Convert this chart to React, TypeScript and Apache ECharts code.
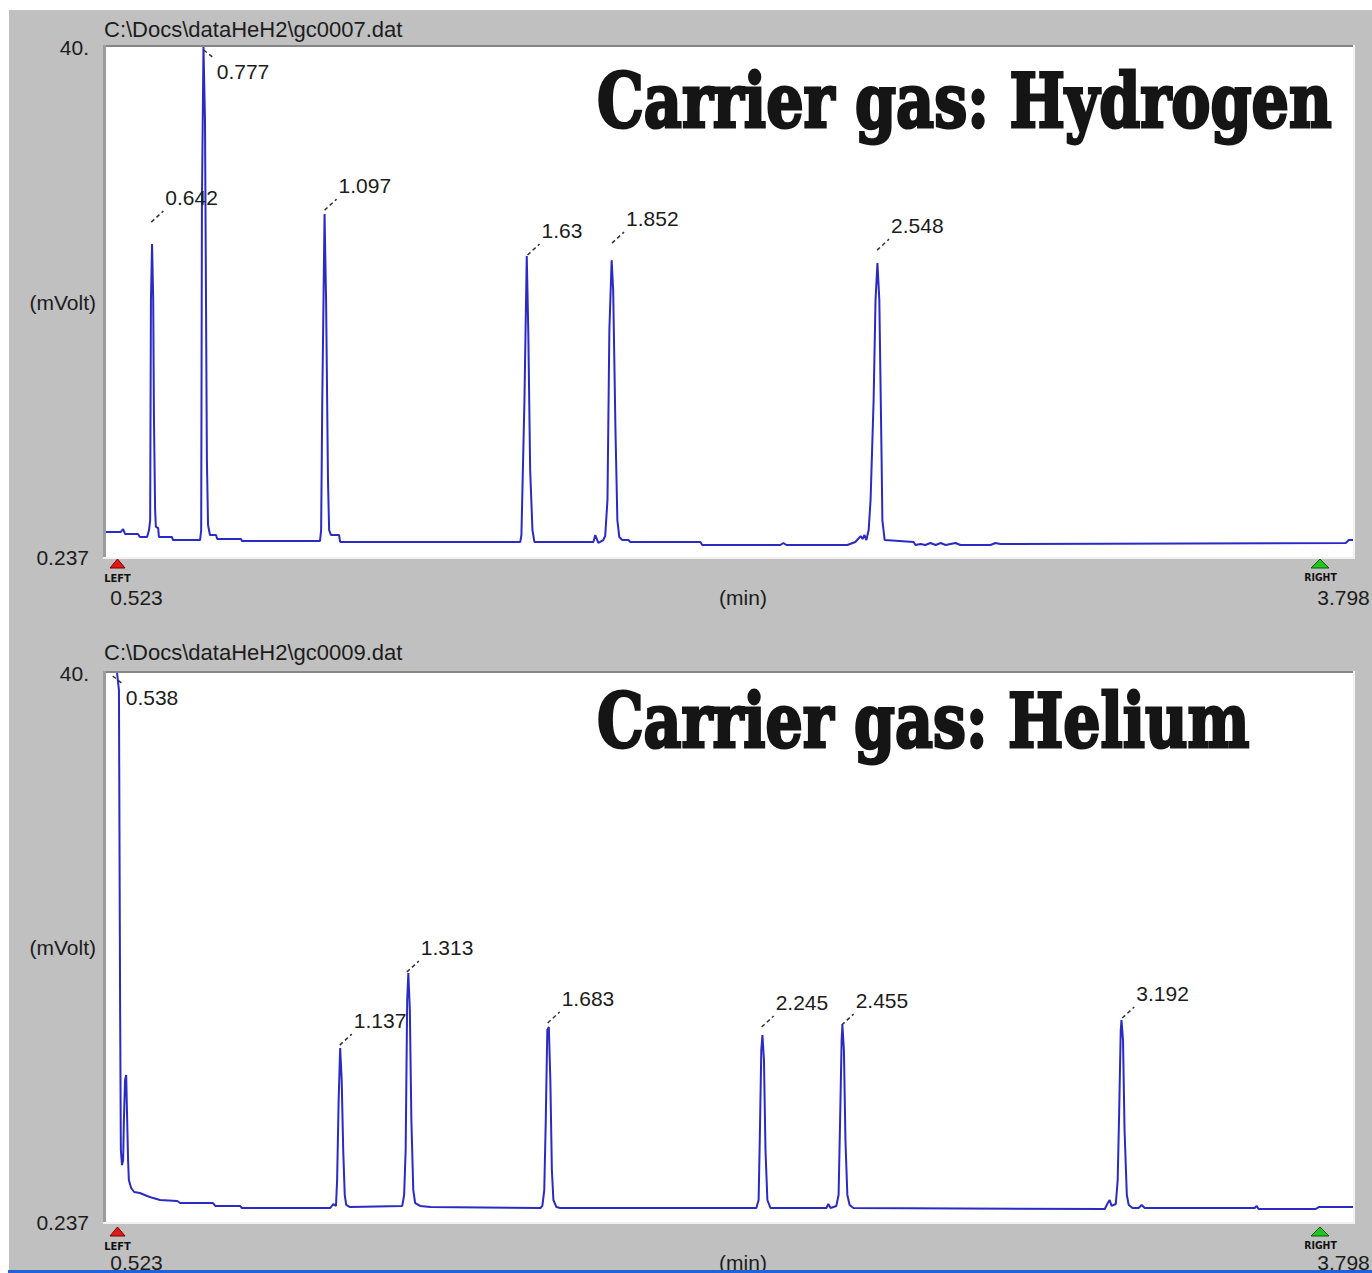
import React, { useEffect, useRef } from 'react';
import * as echarts from 'echarts';

// ---------- data ----------
const xRange = [0.523, 3.798];
const yRange = [0.237, 40];
const xTickValues = [0.523, 3.798];
const xTickLabels = ['0.523', '3.798'];
const yTickValues = [0.237, 40];
const yTickLabels = ['0.237', '40.'];
const xAxisName = '(min)';
const yAxisName = '(mVolt)';
const fileNames = ['C:\\Docs\\dataHeH2\\gc0007.dat', 'C:\\Docs\\dataHeH2\\gc0009.dat'];
const panelTitles = ['Carrier gas: Hydrogen', 'Carrier gas: Helium'];
const markerTexts = ['LEFT', 'RIGHT'];

const hydrogenTrace: [number, number][] = [
  [0.523, 2.19], [0.562, 2.19], [0.568, 2.42], [0.573, 2.03], [0.607, 2.03], [0.612, 1.80], [0.631, 1.80],
  [0.636, 2.34], [0.639, 3.12], [0.641, 20.27], [0.644, 24.63], [0.647, 20.27], [0.649, 10.92], [0.652, 3.90],
  [0.654, 2.58], [0.660, 2.50], [0.662, 1.80], [0.696, 1.80], [0.699, 1.56], [0.770, 1.56], [0.773, 2.34],
  [0.775, 28.06], [0.779, 40], [0.783, 34.30], [0.788, 7.80], [0.791, 2.73], [0.796, 1.95], [0.812, 1.95],
  [0.815, 1.64], [0.878, 1.64], [0.880, 1.48], [1.085, 1.48], [1.088, 2.34], [1.091, 12.47], [1.097, 26.97],
  [1.101, 20.27], [1.106, 6.24], [1.109, 2.34], [1.114, 1.95], [1.135, 1.95], [1.138, 1.41], [1.611, 1.41],
  [1.614, 1.95], [1.622, 12.47], [1.628, 23.70], [1.632, 17.93], [1.637, 7.02], [1.643, 2.34], [1.648, 1.41],
  [1.803, 1.41], [1.808, 1.95], [1.816, 1.33], [1.829, 1.56], [1.834, 1.87], [1.840, 4.68], [1.845, 17.93],
  [1.851, 23.38], [1.855, 21.05], [1.861, 10.14], [1.866, 3.12], [1.871, 1.80], [1.879, 1.56], [1.895, 1.56],
  [1.900, 1.41], [2.084, 1.41], [2.089, 1.17], [2.294, 1.17], [2.302, 1.33], [2.310, 1.17], [2.470, 1.17],
  [2.491, 1.41], [2.505, 1.87], [2.510, 1.64], [2.515, 1.95], [2.520, 1.56], [2.526, 2.34], [2.531, 4.68],
  [2.539, 12.47], [2.544, 20.27], [2.549, 23.15], [2.554, 20.27], [2.560, 7.80], [2.562, 3.12], [2.568, 1.56],
  [2.644, 1.41], [2.649, 1.17], [2.662, 1.25], [2.675, 1.17], [2.688, 1.33], [2.702, 1.17], [2.715, 1.33],
  [2.728, 1.17], [2.754, 1.33], [2.767, 1.17], [2.846, 1.17], [2.859, 1.33], [2.872, 1.25], [3.779, 1.33],
  [3.787, 1.56], [3.798, 1.56],
];

const heliumTrace: [number, number][] = [
  [0.552, 40], [0.557, 38.76], [0.560, 16.31], [0.562, 5.45], [0.565, 4.36], [0.568, 4.73], [0.570, 7.62],
  [0.573, 10.52], [0.576, 10.88], [0.578, 8.35], [0.581, 4.73], [0.583, 3.28], [0.589, 2.70], [0.597, 2.41],
  [0.612, 2.34], [0.631, 2.12], [0.647, 1.97], [0.665, 1.83], [0.710, 1.76], [0.718, 1.61], [0.804, 1.61],
  [0.810, 1.40], [0.875, 1.40], [0.880, 1.25], [1.112, 1.25], [1.120, 1.54], [1.127, 1.40], [1.130, 3.28],
  [1.134, 9.07], [1.138, 12.84], [1.142, 10.52], [1.146, 5.45], [1.150, 2.19], [1.154, 1.47], [1.164, 1.32],
  [1.301, 1.40], [1.306, 2.19], [1.310, 5.45], [1.314, 16.31], [1.317, 18.27], [1.321, 15.59], [1.325, 7.62],
  [1.330, 2.55], [1.335, 1.61], [1.348, 1.40], [1.375, 1.32], [1.664, 1.25], [1.669, 1.40], [1.674, 2.55],
  [1.678, 7.62], [1.682, 14.14], [1.686, 14.36], [1.690, 10.52], [1.694, 4.00], [1.698, 1.83], [1.706, 1.32],
  [1.716, 1.25], [2.231, 1.25], [2.237, 1.83], [2.240, 6.17], [2.244, 12.69], [2.247, 13.78], [2.251, 11.97],
  [2.255, 5.45], [2.260, 1.83], [2.268, 1.25], [2.415, 1.25], [2.420, 1.54], [2.426, 1.25], [2.441, 1.40],
  [2.447, 2.19], [2.451, 7.62], [2.455, 13.42], [2.457, 14.50], [2.461, 12.69], [2.465, 6.17], [2.470, 2.19],
  [2.476, 1.47], [2.486, 1.25], [3.146, 1.18], [3.154, 1.61], [3.159, 1.83], [3.164, 1.40], [3.175, 1.54],
  [3.180, 3.28], [3.184, 8.35], [3.188, 14.14], [3.190, 14.86], [3.194, 13.42], [3.198, 6.90], [3.204, 2.19],
  [3.209, 1.47], [3.219, 1.25], [3.235, 1.25], [3.243, 1.47], [3.251, 1.25], [3.540, 1.25], [3.545, 1.40],
  [3.550, 1.18], [3.700, 1.18], [3.708, 1.32], [3.798, 1.32],
];

const hydrogenPeakTimes = [0.642, 0.777, 1.097, 1.63, 1.852, 2.548];
const hydrogenPeakTops = [26.35, 40, 27.28, 23.78, 24.71, 24.16];
const hydrogenPeakLabels = ['0.642', '0.777', '1.097', '1.63', '1.852', '2.548'];

const heliumPeakTimes = [0.538, 1.137, 1.313, 1.683, 2.245, 2.455, 3.192];
const heliumPeakTops = [40, 13.05, 18.34, 14.65, 14.36, 14.5, 15.01];
const heliumPeakLabels = ['0.538', '1.137', '1.313', '1.683', '2.245', '2.455', '3.192'];

// ---------- styling ----------
const FONT = '"Liberation Sans", Arial, sans-serif';
const TXT = '#1c1c1c';
const TRACE = '#2a2ac4';
const BG = '#c0c0c0';

const GRIDS = [
  { left: 106, top: 47, width: 1247, height: 510 },
  { left: 106, top: 673, width: 1247, height: 549 },
];

function nearestIdx(vals: number[], v: number) {
  let best = 0;
  vals.forEach((x, i) => { if (Math.abs(x - v) < Math.abs(vals[best] - v)) best = i; });
  return best;
}

function labelSeries(times: number[], tops: number[], labels: string[], idx: number) {
  return {
    type: 'custom',
    xAxisIndex: idx,
    yAxisIndex: idx,
    silent: true,
    z: 5,
    encode: { x: 0, y: 1 },
    data: times.map((t, i) => [t, tops[i]]),
    renderItem: (params: any, api: any) => {
      const v = api.value(1);
      const p = api.coord([api.value(0), v]);
      const atTop = v >= 39.9;
      const text = labels[params.dataIndex];
      const x1 = p[0] + (atTop ? 1 : 0);
      const y1 = p[1] + (atTop ? 3 : 0);
      const x2 = p[0] + (atTop ? 11 : 12);
      const y2 = p[1] + (atTop ? 11 : -11);
      return {
        type: 'group',
        children: [
          { type: 'line', shape: { x1, y1, x2, y2 }, style: { stroke: '#333', lineWidth: 1.5, lineDash: [4, 3] } },
          {
            type: 'text', x: p[0] + 14, y: p[1] + (atTop ? 24 : -25),
            style: { text, fill: TXT, fontSize: 21, fontFamily: FONT, align: 'left', verticalAlign: 'middle' },
          },
        ],
      };
    },
  };
}

export default function App() {
  const ref = useRef<HTMLDivElement>(null);
  useEffect(() => {
    document.body.style.margin = '0';
    const chart = echarts.init(ref.current!, null, { renderer: 'svg' });

    const ctx = document.createElement('canvas').getContext('2d')!;
    ctx.font = 'bold 75px "DejaVu Serif"';
    const targetW = [735, 653];
    const scales = panelTitles.map((t, i) => targetW[i] / ctx.measureText(t).width);

    const graphics: any[] = [
      { type: 'rect', shape: { x: 0, y: 0, width: 1372, height: 10 }, style: { fill: '#fff' }, z: 1 },
      { type: 'rect', shape: { x: 0, y: 0, width: 9, height: 1273 }, style: { fill: '#fff' }, z: 1 },
      { type: 'rect', shape: { x: 0, y: 1270, width: 1372, height: 3 }, style: { fill: '#fff' }, z: 1 },
      { type: 'rect', shape: { x: 8, y: 1270, width: 1364, height: 3 }, style: { fill: '#1f63d6' }, z: 2 },
    ];
    const markerDy = [0, 668];
    GRIDS.forEach((g, i) => {
      const x0 = g.left, y0 = g.top, x1 = g.left + g.width, y1 = g.top + g.height;
      graphics.push(
        { type: 'line', shape: { x1: x0 - 2, y1: y0 - 1, x2: x1 + 2, y2: y0 - 1 }, style: { stroke: '#858585', lineWidth: 2 }, z: 30 },
        { type: 'line', shape: { x1: x0 - 1.5, y1: y0 - 2, x2: x0 - 1.5, y2: y1 + 1 }, style: { stroke: '#9c9c9c', lineWidth: 3 }, z: 30 },
        { type: 'line', shape: { x1: x0 - 3, y1: y1 + 1, x2: x1 + 2, y2: y1 + 1 }, style: { stroke: '#f2f2f2', lineWidth: 2 }, z: 30 },
        { type: 'line', shape: { x1: x1 + 1, y1: y0 - 2, x2: x1 + 1, y2: y1 + 2 }, style: { stroke: '#f2f2f2', lineWidth: 2 }, z: 30 },
      );
      const dy = markerDy[i];
      graphics.push(
        { type: 'polygon', shape: { points: [[110, 568 + dy], [117.5, 559 + dy], [125, 568 + dy]] }, style: { fill: '#e01818', stroke: '#7a0000', lineWidth: 1 }, z: 30 },
        { type: 'polygon', shape: { points: [[1311, 568 + dy], [1320, 559 + dy], [1329, 568 + dy]] }, style: { fill: '#22c422', stroke: '#0a5a0a', lineWidth: 1 }, z: 30 },
        { type: 'text', x: 117.5, y: 577.5 + dy, scaleX: 0.9, style: { text: markerTexts[0], fontSize: 11, fontWeight: 'bold', fontFamily: '"DejaVu Sans"', fill: '#111', align: 'center', verticalAlign: 'middle' }, z: 30 },
        { type: 'text', x: 1320.5, y: 577.5 + dy, scaleX: 0.85, style: { text: markerTexts[1], fontSize: 11, fontWeight: 'bold', fontFamily: '"DejaVu Sans"', fill: '#111', align: 'center', verticalAlign: 'middle' }, z: 30 },
      );
      graphics.push({
        type: 'text', x: 597, y: i === 0 ? 101 : 721, scaleX: scales[i], z: 40,
        style: {
          text: panelTitles[i], fontSize: 75, fontWeight: 'bold', fontFamily: '"DejaVu Serif"',
          fill: '#151515', stroke: '#151515', lineWidth: 3, align: 'left', verticalAlign: 'middle',
        },
      });
    });

    const axisText = { fontSize: 21, fontFamily: FONT, color: TXT };

    const option: any = {
      animation: false,
      backgroundColor: BG,
      title: fileNames.map((t, i) => ({
        text: t, left: 104, top: i === 0 ? 18 : 641, padding: 0,
        textStyle: { fontSize: 22, fontWeight: 'normal', fontFamily: FONT, color: TXT },
      })),
      grid: GRIDS.map((g) => ({ ...g, show: true, backgroundColor: '#ffffff', borderWidth: 0, outerBoundsMode: 'none', containLabel: false })),
      xAxis: GRIDS.map((_, i) => ({
        type: 'value', gridIndex: i, min: xRange[0], max: xRange[1],
        splitLine: { show: false }, axisTick: { show: false }, axisLine: { show: false },
        axisLabel: {
          customValues: xTickValues, margin: 30, ...axisText,
          formatter: (v: number) => {
            const k = nearestIdx(xTickValues, v);
            return k === 0 ? `{l|${xTickLabels[k]}}` : `{r|${xTickLabels[k]}}`;
          },
          rich: {
            l: { ...axisText, padding: [0, 0, 0, 61] },
            r: { ...axisText, padding: [0, 19, 0, 0] },
          },
        },
        name: xAxisName, nameLocation: 'middle', nameGap: 30, nameMoveOverlap: false,
        nameTextStyle: { ...axisText, padding: [0, 0, 0, 27] },
      })),
      yAxis: GRIDS.map((_, i) => ({
        type: 'value', gridIndex: i, min: yRange[0], max: yRange[1],
        splitLine: { show: false }, axisTick: { show: false }, axisLine: { show: false },
        axisLabel: {
          customValues: yTickValues, margin: 17, ...axisText,
          formatter: (v: number) => yTickLabels[nearestIdx(yTickValues, v)],
        },
        name: yAxisName, nameLocation: 'middle', nameRotate: 0, nameGap: 10, nameMoveOverlap: false,
        nameTextStyle: { ...axisText },
      })),
      series: [
        {
          type: 'line', xAxisIndex: 0, yAxisIndex: 0, data: hydrogenTrace, showSymbol: false, symbol: 'none',
          lineStyle: { color: TRACE, width: 2 }, clip: true, z: 3, silent: true,
        },
        {
          type: 'line', xAxisIndex: 1, yAxisIndex: 1, data: heliumTrace, showSymbol: false, symbol: 'none',
          lineStyle: { color: TRACE, width: 2 }, clip: true, z: 3, silent: true,
        },
        labelSeries(hydrogenPeakTimes, hydrogenPeakTops, hydrogenPeakLabels, 0),
        labelSeries(heliumPeakTimes, heliumPeakTops, heliumPeakLabels, 1),
      ],
      graphic: { elements: graphics },
    };
    chart.setOption(option);
    return () => chart.dispose();
  }, []);
  return <div ref={ref} style={{ position: 'absolute', left: 0, top: 0, width: 1372, height: 1273 }} />;
}
